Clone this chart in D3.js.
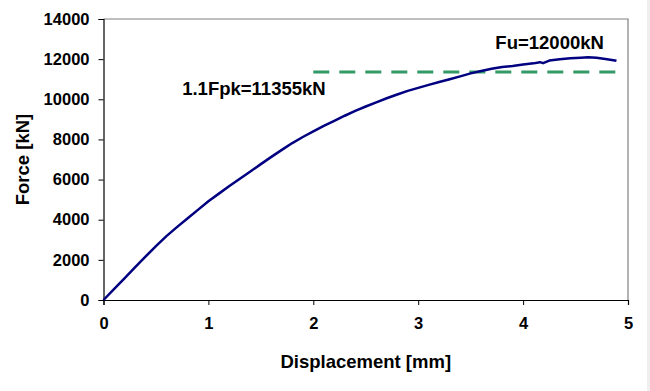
<!DOCTYPE html>
<html>
<head>
<meta charset="utf-8">
<script src="https://cdn.jsdelivr.net/npm/d3@7"></script>
<style>
  body { margin: 0; background: #fff; }
  text { font-family: "Liberation Sans", Arial, sans-serif; font-weight: bold; fill: #000; }
</style>
</head>
<body>
<div id="chart"></div>
<script>
// Load-displacement curve
const displacement = [0, 0.1, 0.2, 0.3, 0.4, 0.5, 0.6, 0.7, 0.8, 0.9, 1.0, 1.1, 1.2, 1.3, 1.4, 1.5, 1.6, 1.7, 1.8, 1.9,
  2.0, 2.1, 2.2, 2.3, 2.4, 2.5, 2.6, 2.7, 2.8, 2.9, 3.0, 3.1, 3.2, 3.3, 3.4, 3.5, 3.6, 3.7, 3.8, 3.9,
  4.0, 4.1, 4.16, 4.19, 4.25, 4.35, 4.45, 4.55, 4.62, 4.7, 4.8, 4.89];
const force = [0, 540, 1080, 1620, 2160, 2680, 3180, 3630, 4060, 4490, 4920, 5300, 5680, 6040, 6400, 6770, 7130, 7480, 7820, 8120,
  8400, 8670, 8920, 9180, 9420, 9640, 9850, 10050, 10240, 10420, 10570, 10720, 10860, 11000, 11140, 11290, 11410, 11520, 11610, 11660,
  11730, 11790, 11850, 11800, 11930, 12000, 12040, 12070, 12090, 12070, 12000, 11920];

// 1.1 Fpk reference level
const fpkLevel = 11355;
const fpkRange = [2.0, 4.88];

const xTicks = [0, 1, 2, 3, 4, 5];
const yTicks = [0, 2000, 4000, 6000, 8000, 10000, 12000, 14000];

const width = 650, height = 391;
const margin = {top: 19, bottom: 91, left: 103.5, right: 22};

const svg = d3.select("#chart")
  .append("svg")
  .attr("width", width)
  .attr("height", height);

// light strip on the right edge
svg.append("rect")
  .attr("x", 647).attr("y", 0)
  .attr("width", 3).attr("height", height)
  .attr("fill", "#efefef");

const xScale = d3.scaleLinear()
  .domain([0, 5])
  .range([margin.left, width - margin.right]);

const yScale = d3.scaleLinear()
  .domain([0, 14000])
  .range([height - margin.bottom, margin.top]);

// frame: grey top and right edges
svg.append("path")
  .attr("d", `M${xScale(0)},${yScale(14000)}H${xScale(5)}V${yScale(0)}`)
  .attr("fill", "none")
  .attr("stroke", "#808080")
  .attr("stroke-width", 1.2);

// axes
const xAxis = svg.append("g")
  .attr("transform", `translate(0,${yScale(0)})`)
  .call(d3.axisBottom(xScale).tickValues(xTicks).tickFormat(d3.format("d")).tickSize(5).tickPadding(12));

const yAxis = svg.append("g")
  .attr("transform", `translate(${xScale(0)},0)`)
  .call(d3.axisLeft(yScale).tickValues(yTicks).tickFormat(d3.format("d")).tickSize(5).tickPadding(9));

[xAxis, yAxis].forEach(g => {
  g.select(".domain").attr("stroke", "#000").attr("stroke-width", 1.2);
  g.selectAll(".tick line").attr("stroke", "#000");
  g.selectAll("text")
    .style("font-family", '"Liberation Sans", Arial, sans-serif')
    .style("font-weight", "bold")
    .style("font-size", "16.5px")
    .attr("fill", "#000");
});

// dashed 1.1Fpk line
svg.append("line")
  .attr("x1", xScale(fpkRange[0]))
  .attr("x2", xScale(fpkRange[1]))
  .attr("y1", yScale(fpkLevel))
  .attr("y2", yScale(fpkLevel))
  .attr("stroke", "#339966")
  .attr("stroke-width", 3)
  .attr("stroke-dasharray", "16,10");

// load curve
const line = d3.line()
  .x((d, i) => xScale(displacement[i]))
  .y(d => yScale(d));

svg.append("path")
  .datum(force)
  .attr("d", line)
  .attr("fill", "none")
  .attr("stroke", "#000080")
  .attr("stroke-width", 2.5)
  .attr("stroke-linejoin", "round");

// annotations
svg.append("text")
  .attr("x", xScale(4.77))
  .attr("y", yScale(12500))
  .attr("text-anchor", "end")
  .style("font-size", "18.5px")
  .text("Fu=12000kN");

svg.append("text")
  .attr("x", xScale(0.75))
  .attr("y", yScale(10200))
  .style("font-size", "18.5px")
  .text("1.1Fpk=11355kN");

// axis titles
svg.append("text")
  .attr("x", (xScale(0) + xScale(5)) / 2)
  .attr("y", 368)
  .attr("text-anchor", "middle")
  .style("font-size", "18.5px")
  .text("Displacement [mm]");

svg.append("text")
  .attr("transform", "rotate(-90)")
  .attr("x", -(yScale(0) + yScale(14000)) / 2)
  .attr("y", 29)
  .attr("text-anchor", "middle")
  .style("font-size", "18.5px")
  .text("Force [kN]");
</script>
</body>
</html>
